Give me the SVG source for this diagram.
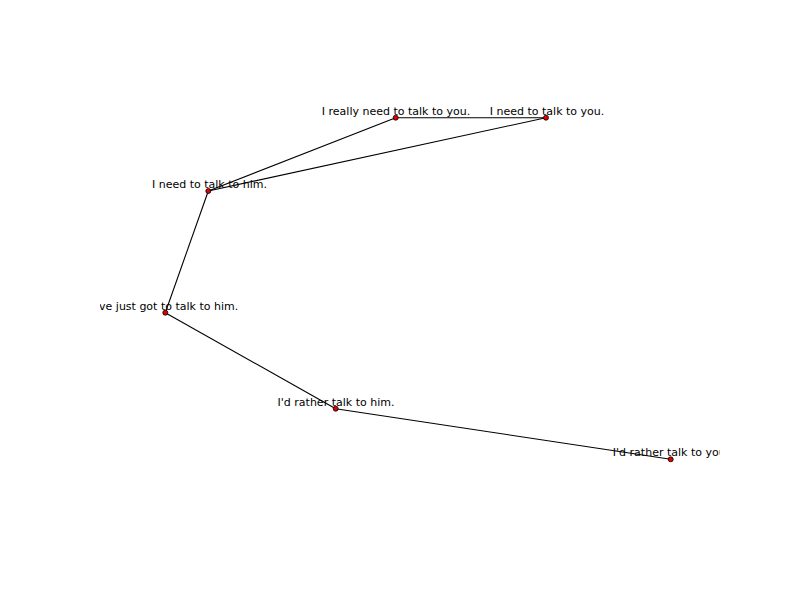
<svg xmlns="http://www.w3.org/2000/svg" width="800" height="600" viewBox="0 0 800 600">
<defs>
<clipPath id="ax"><rect x="100" y="72" width="620" height="462"/></clipPath>
</defs>
<style>
.lbl{font-family:"DejaVu Sans",sans-serif;font-size:11px;fill:#000;text-anchor:middle}
.edge{stroke:#000;stroke-width:1.1;fill:none}
.nd{fill:#e00000;stroke:#000;stroke-width:0.8}
</style>
<rect width="800" height="600" fill="#fff"/>
<g clip-path="url(#ax)">
<g id="labels">
<text class="lbl" x="396" y="114.7">I really need to talk to you.</text>
<text class="lbl" x="547" y="114.7">I need to talk to you.</text>
<text class="lbl" x="209.5" y="188">I need to talk to him.</text>
<text class="lbl" x="165.5" y="309.7">I've just got to talk to him.</text>
<text class="lbl" x="336" y="406">I'd rather talk to him.</text>
<text class="lbl" x="671" y="456.3">I'd rather talk to you.</text>
</g>
<g id="connectors">
<line class="edge" x1="395.7" y1="117.7" x2="546" y2="117.7"/>
<line class="edge" x1="395.7" y1="117.7" x2="208.3" y2="191"/>
<line class="edge" x1="546" y1="117.7" x2="208.3" y2="191"/>
<line class="edge" x1="208.3" y1="191" x2="165.3" y2="312.7"/>
<line class="edge" x1="165.3" y1="312.7" x2="335.7" y2="408.7"/>
<line class="edge" x1="335.7" y1="408.7" x2="670.7" y2="459.3"/>
</g>
<g id="n1"><circle class="nd" cx="395.7" cy="117.7" r="2.5"/></g>
<g id="n2"><circle class="nd" cx="546" cy="117.7" r="2.5"/></g>
<g id="n3"><circle class="nd" cx="208.3" cy="191" r="2.5"/></g>
<g id="n4"><circle class="nd" cx="165.3" cy="312.7" r="2.5"/></g>
<g id="n5"><circle class="nd" cx="335.7" cy="408.7" r="2.5"/></g>
<g id="n6"><circle class="nd" cx="670.7" cy="459.3" r="2.5"/></g>
</g>
</svg>
